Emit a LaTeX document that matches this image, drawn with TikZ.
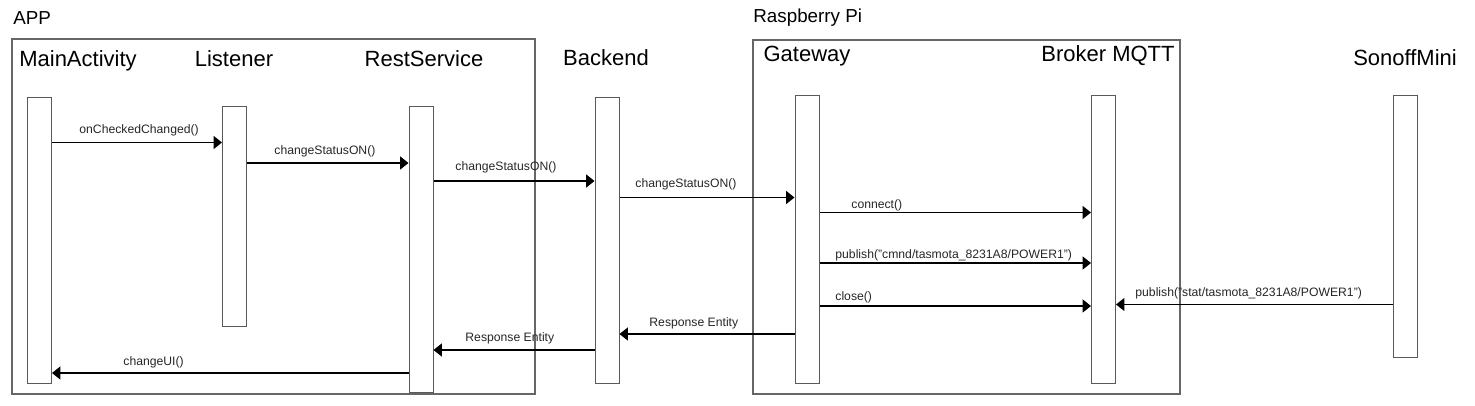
\documentclass[tikz,border=0pt]{standalone}
\usepackage{fontspec}
\setmainfont{Liberation Sans}
\usetikzlibrary{arrows.meta}
\begin{document}
\begin{tikzpicture}[x=0.5pt,y=-0.5pt,
  frame/.style={draw=black!60, line width=0.6pt},
  bar/.style={draw=black!65, fill=white, line width=0.5pt, minimum width=12pt, inner sep=0pt, rectangle},
  life/.style={font=\fontsize{11}{13}\selectfont, inner sep=0pt, anchor=base},
  grp/.style={font=\fontsize{9.4}{11}\selectfont, inner sep=0pt, anchor=west},
  msg/.style={draw=black, line width=0.7pt, -{Triangle[length=4.2pt,width=6.5pt]}},
  lbl/.style={font=\fontsize{6.1}{7}\selectfont, text=black!85, inner sep=0pt, anchor=west}]
\path[use as bounding box] (0,0) rectangle (1475,406);

% group frames
\node[grp] (tapp) at (13,18) {APP};
\node[grp] (trpi) at (753,18) {Raspberry Pi};
\draw[frame] (12,39) rectangle (535,394);
\draw[frame] (753,40) rectangle (1180,394);

% lifeline titles
\node[life] (lma) at (78,67) {MainActivity};
\node[life] (lli) at (234,67) {Listener};
\node[life] (lrs) at (424,66.5) {RestService};
\node[life] (lbe) at (606,66) {Backend};
\node[life] (lgw) at (807,61.5) {Gateway};
\node[life] (lbr) at (1108,61.5) {Broker MQTT};
\node[life] (lso) at (1405,66) {SonoffMini};

% activation bars
\node[bar, minimum height=142.5pt] (ma) at (39.5,240.5) {};
\node[bar, minimum height=109.5pt] (li) at (234.5,216.5) {};
\node[bar, minimum height=142.5pt] (rs) at (421,249.5) {};
\node[bar, minimum height=142.5pt] (be) at (607,240.5) {};
\node[bar, minimum height=143.5pt] (gw) at (807,239.5) {};
\node[bar, minimum height=143.5pt] (br) at (1103.5,239.5) {};
\node[bar, minimum height=130.5pt] (so) at (1405.5,226.5) {};

% message heights
\coordinate (m1) at (0,142.5);
\coordinate (m2) at (0,163);
\coordinate (m3) at (0,181);
\coordinate (m4) at (0,197.5);
\coordinate (m5) at (0,212.5);
\coordinate (m6) at (0,263);
\coordinate (m7) at (0,306);
\coordinate (m8) at (0,304.5);
\coordinate (m9) at (0,334);
\coordinate (m10) at (0,350);
\coordinate (m11) at (0,373);

% messages
\draw[msg] (ma.east |- m1) -- (li.west |- m1);
\draw[msg] (li.east |- m2) -- (rs.west |- m2);
\draw[msg] (rs.east |- m3) -- (be.west |- m3);
\draw[msg] (be.east |- m4) -- (gw.west |- m4);
\draw[msg] (gw.east |- m5) -- (br.west |- m5);
\draw[msg] (gw.east |- m6) -- (br.west |- m6);
\draw[msg] (gw.east |- m7) -- (br.west |- m7);
\draw[msg] (so.west |- m8) -- (br.east |- m8);
\draw[msg] (gw.west |- m9) -- (be.east |- m9);
\draw[msg] (be.west |- m10) -- (rs.east |- m10);
\draw[msg] (rs.west |- m11) -- (ma.east |- m11);

% message labels
\node[lbl] (t1) at (79,130) {onCheckedChanged()};
\node[lbl] (t2) at (274,151) {changeStatusON()};
\node[lbl] (t3) at (455,167.5) {changeStatusON()};
\node[lbl] (t4) at (635,184) {changeStatusON()};
\node[lbl] (t5) at (851,205) {connect()};
\node[lbl] (t6) at (835,255) {publish("cmnd/tasmota\_8231A8/POWER1")};
\node[lbl] (t7) at (835,297) {close()};
\node[lbl] (t8) at (1135,293) {publish("stat/tasmota\_8231A8/POWER1")};
\node[lbl] (t9) at (649,323) {Response Entity};
\node[lbl] (t10) at (465,338) {Response Entity};
\node[lbl] (t11) at (123,362) {changeUI()};
\end{tikzpicture}
\end{document}
